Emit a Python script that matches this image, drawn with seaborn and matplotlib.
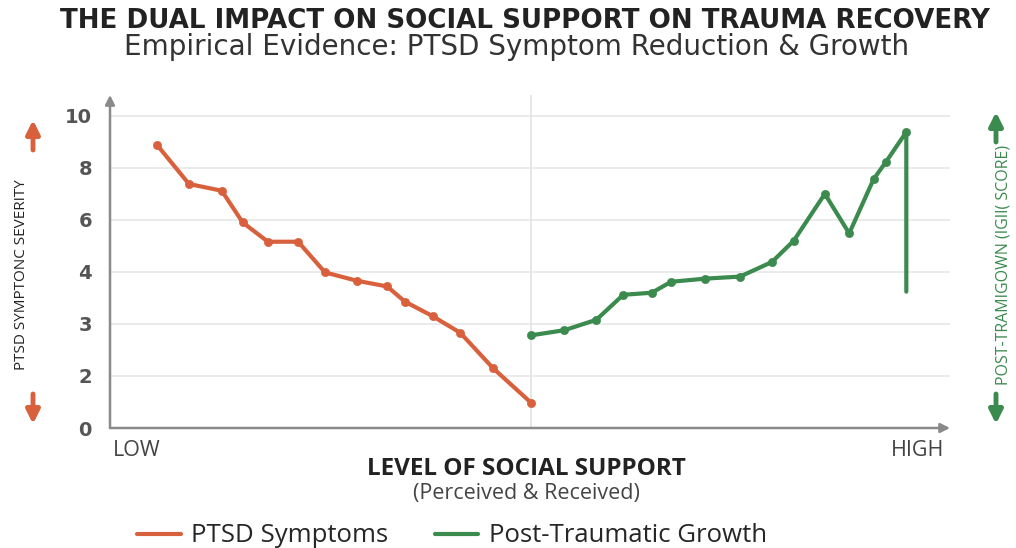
import matplotlib
matplotlib.use("Agg")
import matplotlib.pyplot as plt
import seaborn as sns
import pandas as pd
from matplotlib.patches import FancyArrowPatch
from matplotlib.lines import Line2D

# ---- data (y in tick-position units; the axis labels are non-linear) ----
support_ptsd = [5.6, 9.4, 13.3, 15.8, 18.8, 22.4, 25.6, 29.4, 33.0, 35.1, 38.4, 41.7, 45.6, 50.1]
ptsd_values = [5.44, 4.69, 4.56, 3.95, 3.58, 3.58, 2.99, 2.83, 2.72, 2.43, 2.15, 1.83, 1.15, 0.49]
support_ptg = [50.1, 54.1, 57.9, 61.1, 64.5, 66.8, 70.8, 75.0, 78.8, 81.4, 85.1, 88.0, 90.9, 92.4, 94.8, 94.8]
ptg_values = [1.78, 1.88, 2.08, 2.56, 2.60, 2.81, 2.87, 2.91, 3.19, 3.60, 4.50, 3.74, 4.78, 5.12, 5.69, 2.62]
ytick_pos = [0, 1, 2, 3, 4, 5, 6]
ytick_labels = ["0", "2", "3", "4", "6", "8", "10"]
series_names = ["PTSD Symptoms", "Post-Traumatic Growth"]

ORANGE = "#d9603c"
GREEN = "#3b8a4e"

sns.set_theme(style="white")
plt.rcParams["font.family"] = ["Open Sans", "DejaVu Sans"]

fig = plt.figure(figsize=(10.16, 5.48), dpi=100)
W, H = 1016, 548
ax = fig.add_axes([110 / W, (548 - 428) / H, (950 - 110) / W, (428 - 95) / H])

df_p = pd.DataFrame({"support": support_ptsd, "value": ptsd_values})
df_g = pd.DataFrame({"support": support_ptg, "value": ptg_values})

for p in ytick_pos[1:]:
    ax.axhline(p, color="#e8e8e8", lw=1.2, zorder=0)
ax.axvline(50.1, color="#e3e3e3", lw=1.2, zorder=0)

sns.lineplot(data=df_p, x="support", y="value", ax=ax, color=ORANGE, lw=3,
             sort=False, estimator=None, zorder=3)
sns.scatterplot(data=df_p, x="support", y="value", ax=ax, color=ORANGE, s=35,
                edgecolor=ORANGE, zorder=4)
sns.lineplot(data=df_g, x="support", y="value", ax=ax, color=GREEN, lw=3,
             sort=False, estimator=None, zorder=3)
sns.scatterplot(data=df_g.iloc[:-1], x="support", y="value", ax=ax, color=GREEN, s=35,
                edgecolor=GREEN, zorder=4)

ax.set_xlim(0, 100)
ax.set_ylim(0, 6.4)
ax.set_yticks(ytick_pos)
ax.set_yticklabels(ytick_labels, fontsize=14, fontweight="bold", color="#555555",
                   family="DejaVu Sans")
ax.tick_params(axis="y", length=0, pad=13)
ax.set_xticks([])
ax.set_xlabel("")
ax.set_ylabel("")
for s in ax.spines.values():
    s.set_visible(False)

ax.annotate("", xy=(0, 1.0), xytext=(0, 0), xycoords="axes fraction",
            arrowprops=dict(arrowstyle="-|>", color="#8a8a8a", lw=1.8, mutation_scale=14,
                            shrinkA=0, shrinkB=0))
ax.annotate("", xy=(1.0, 0), xytext=(0, 0), xycoords="axes fraction",
            arrowprops=dict(arrowstyle="-|>", color="#8a8a8a", lw=1.8, mutation_scale=14,
                            shrinkA=0, shrinkB=0))

fig.text(137 / W, 1 - 451 / H, "LOW", ha="center", va="center", fontsize=15.5, color="#444444")
fig.text(918 / W, 1 - 451 / H, "HIGH", ha="center", va="center", fontsize=15.5, color="#444444")
fig.text(526 / W, 1 - 469 / H, "LEVEL OF SOCIAL SUPPORT", ha="center", va="center",
         fontsize=17.5, fontweight="bold", color="#222222")
fig.text(526 / W, 1 - 494 / H, "(Perceived & Received)", ha="center", va="center",
         fontsize=15.5, color="#444444")

fig.text(525 / W, 1 - 28 / H, "THE DUAL IMPACT ON SOCIAL SUPPORT ON TRAUMA RECOVERY",
         ha="center", va="baseline", fontsize=18.8, fontweight="bold", color="#222222",
         family="DejaVu Sans")
fig.text(517 / W, 1 - 55 / H, "Empirical Evidence: PTSD Symptom Reduction & Growth",
         ha="center", va="baseline", fontsize=20, color="#333333", family="DejaVu Sans")

fig.text(22 / W, 1 - 275 / H, "PTSD SYMPTONC SEVERITY", rotation=90, ha="center",
         va="center", fontsize=11, color="#222222")
fig.text(1003 / W, 1 - 265 / H, "POST-TRAMIGOWN (IGII( SCORE)", rotation=90, ha="center",
         va="center", fontsize=11.5, color=GREEN)

def farrow(x, y0, y1, color):
    fig.add_artist(FancyArrowPatch((x / W, 1 - y0 / H), (x / W, 1 - y1 / H),
                                   transform=fig.transFigure, arrowstyle="-|>",
                                   mutation_scale=20, lw=3.5, color=color,
                                   shrinkA=0, shrinkB=0))

farrow(33, 150, 120, ORANGE)
farrow(33, 394, 424, ORANGE)
farrow(996, 142, 112, GREEN)
farrow(996, 394, 424, GREEN)

handles = [Line2D([], [], color=ORANGE, lw=3), Line2D([], [], color=GREEN, lw=3)]
fig.legend(handles, series_names, loc="center", bbox_to_anchor=(452 / W, 1 - 536 / H),
           ncol=2, frameon=False, fontsize=18.5, handlelength=1.7, columnspacing=1.8,
           handletextpad=0.4)

fig.savefig("out.png", dpi=100)
